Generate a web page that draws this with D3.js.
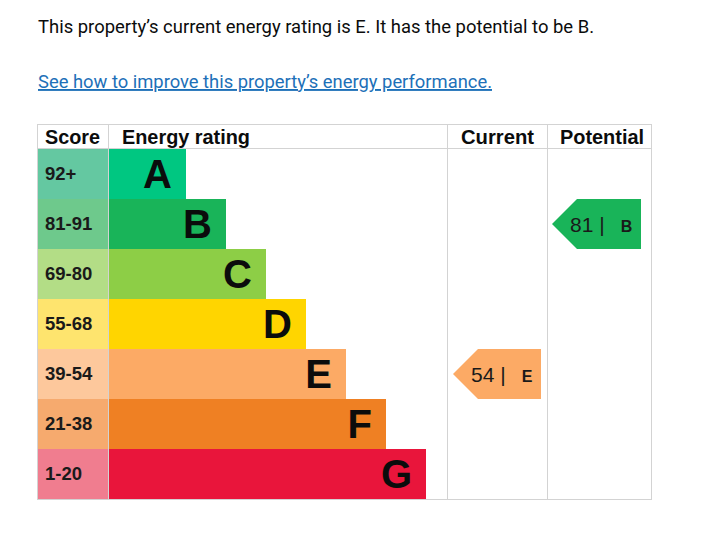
<!DOCTYPE html>
<html>
<head>
<meta charset="utf-8">
<script src="https://cdn.jsdelivr.net/npm/d3@7"></script>
<style>
  body { margin: 0; background: #fff; }
</style>
</head>
<body>
<div id="chart"></div>
<script>
// rating bands, top to bottom
const ratings = ["A", "B", "C", "D", "E", "F", "G"];
const scores = ["92+", "81-91", "69-80", "55-68", "39-54", "21-38", "1-20"];
const barColors = ["#00c781", "#19b459", "#8dce46", "#ffd500", "#fcaa65", "#ef8023", "#e9153b"];
const scoreColors = ["#64c8a1", "#6ec98c", "#b3dd86", "#fee46e", "#fdc89c", "#f6aa6e", "#f07d8f"];

const currentScore = 54, currentRating = "E";
const potentialScore = 81, potentialRating = "B";

const W = 728, H = 539;
const svg = d3.select("#chart").append("svg")
    .attr("width", W)
    .attr("height", H);

// intro text
svg.append("text")
    .attr("x", 38).attr("y", 33)
    .attr("font-family", "Roboto, 'Noto Sans', sans-serif")
    .attr("font-size", 19)
    .attr("fill", "#0b0c0c")
    .attr("textLength", 556)
    .attr("lengthAdjust", "spacingAndGlyphs")
    .text("This property\u2019s current energy rating is E. It has the potential to be B.");

svg.append("text")
    .attr("x", 38).attr("y", 88)
    .attr("font-family", "Roboto, 'Noto Sans', sans-serif")
    .attr("font-size", 19)
    .attr("fill", "#1d70b8")
    .attr("text-decoration", "underline")
    .attr("textLength", 454)
    .attr("lengthAdjust", "spacingAndGlyphs")
    .text("See how to improve this property\u2019s energy performance.");

// table geometry
const left = 37, scoreRight = 108, curLeft = 447, potLeft = 547, right = 651;
const headTop = 124, headBottom = 149, bottom = 499;

const y = d3.scaleBand().domain(ratings).range([headBottom, bottom]);
const barEnd = d3.scaleLinear().domain([0, ratings.length - 1]).range([186, 426]);

const grid = "#d3d3d3";
const g = svg.append("g");

// borders
g.append("rect")
    .attr("x", left + 0.5).attr("y", headTop + 0.5)
    .attr("width", right - left).attr("height", bottom - headTop)
    .attr("fill", "none").attr("stroke", grid);
[scoreRight, curLeft, potLeft].forEach(x => {
    g.append("line")
        .attr("x1", x + 0.5).attr("x2", x + 0.5)
        .attr("y1", headTop).attr("y2", bottom)
        .attr("stroke", grid);
});
g.append("line")
    .attr("x1", left).attr("x2", right)
    .attr("y1", headBottom - 0.5).attr("y2", headBottom - 0.5)
    .attr("stroke", grid);

// header
const head = [["Score", 45, 55], ["Energy rating", 122, 128], ["Current", 461, 73], ["Potential", 560, 84]];
g.selectAll("text.head").data(head).join("text")
    .attr("class", "head")
    .attr("x", d => d[1]).attr("y", 144)
    .attr("font-family", "'Liberation Sans', Arial, sans-serif")
    .attr("font-weight", "bold")
    .attr("font-size", 20)
    .attr("fill", "#0b0c0c")
    .attr("textLength", d => d[2])
    .attr("lengthAdjust", "spacingAndGlyphs")
    .text(d => d[0]);

// score cells
g.selectAll("rect.score").data(ratings).join("rect")
    .attr("class", "score")
    .attr("x", left + 1).attr("y", d => y(d))
    .attr("width", scoreRight - left - 1).attr("height", y.bandwidth())
    .attr("fill", (d, i) => scoreColors[i]);

g.selectAll("text.score").data(ratings).join("text")
    .attr("class", "score")
    .attr("x", 45).attr("y", d => y(d) + y.bandwidth() / 2 + 6)
    .attr("font-family", "'Liberation Sans', Arial, sans-serif")
    .attr("font-weight", "bold")
    .attr("font-size", 18.5)
    .attr("fill", "#1a1a1a")
    .text((d, i) => scores[i]);

// rating bars
g.selectAll("rect.bar").data(ratings).join("rect")
    .attr("class", "bar")
    .attr("x", scoreRight + 1).attr("y", d => y(d))
    .attr("width", (d, i) => barEnd(i) - scoreRight - 1).attr("height", y.bandwidth())
    .attr("fill", (d, i) => barColors[i]);

g.selectAll("text.bar").data(ratings).join("text")
    .attr("class", "bar")
    .attr("x", (d, i) => barEnd(i) - 14)
    .attr("y", d => y(d) + y.bandwidth() / 2 + 14)
    .attr("text-anchor", "end")
    .attr("font-family", "'Liberation Sans', Arial, sans-serif")
    .attr("font-weight", "bold")
    .attr("font-size", 40)
    .attr("fill", "#0b0c0c")
    .text(d => d);

// arrows for current and potential
function arrow(x0, x1, rating, score) {
    const i = ratings.indexOf(rating);
    const top = y(rating), h = y.bandwidth(), mid = top + h / 2;
    const pts = [[x0, mid], [x0 + 25, top], [x1, top], [x1, top + h], [x0 + 25, top + h]];
    g.append("path")
        .attr("d", d3.line()(pts) + "Z")
        .attr("fill", barColors[i]);
    const t = g.append("text")
        .attr("x", x0 + 18).attr("y", mid + 8)
        .attr("font-family", "'Liberation Sans', Arial, sans-serif")
        .attr("fill", "#1a1a1a");
    t.append("tspan").attr("font-size", 21).text(score + " |");
    t.append("tspan").attr("dx", 16).attr("font-size", 16).attr("font-weight", "bold").text(rating);
}
arrow(453, 541, currentRating, currentScore);
arrow(552, 641, potentialRating, potentialScore);
</script>
</body>
</html>
